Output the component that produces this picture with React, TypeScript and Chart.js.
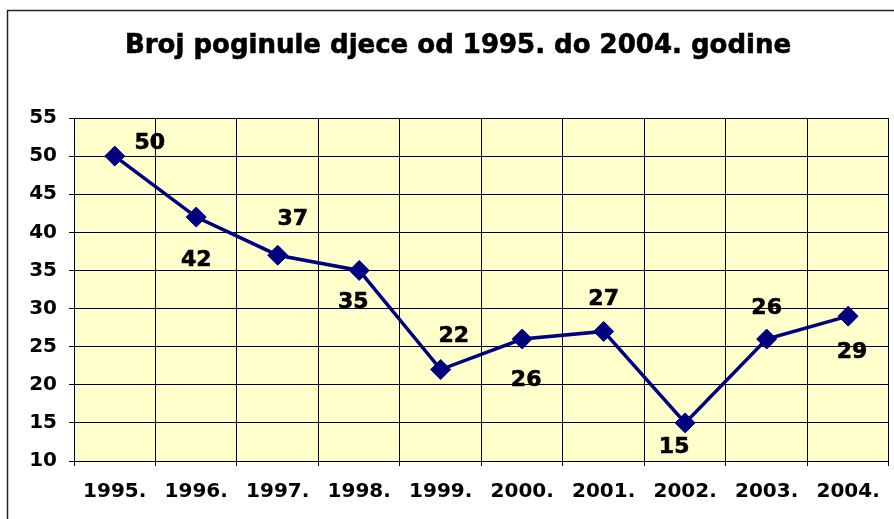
import React, { useEffect, useRef } from "react";
import { Chart, registerables } from "chart.js";

Chart.register(...registerables);

const TITLE = "Broj poginule djece od 1995. do 2004. godine";
const years = ["1995.", "1996.", "1997.", "1998.", "1999.", "2000.", "2001.", "2002.", "2003.", "2004."];
const deaths = [50, 42, 37, 35, 22, 26, 27, 15, 26, 29];
const yMin = 10;
const yMax = 55;
const yStep = 5;

// label placement (pixel offsets from the marker), style only
const labelDx = [35, 0, 15, -6, 13, 4, 0, -11, 0, 4];
const labelDy = [-13, 43, -36, 32, -33, 41, -32, 24, -31, 36];

const FONT = "'DejaVu Sans', Verdana, sans-serif";

const decorPlugin = {
  id: "decor",
  beforeDraw(chart: any) {
    const { ctx, chartArea } = chart;
    ctx.save();
    ctx.fillStyle = "#ffffff";
    ctx.fillRect(0, 0, chart.width, chart.height);
    ctx.fillStyle = "#FFFFCC";
    ctx.fillRect(chartArea.left, chartArea.top, chartArea.right - chartArea.left, chartArea.bottom - chartArea.top);
    ctx.strokeStyle = "#222";
    ctx.lineWidth = 1.5;
    ctx.strokeRect(7.5, 10.5, chart.width + 20, chart.height + 20);
    ctx.fillStyle = "#000";
    ctx.strokeStyle = "#000";
    ctx.lineWidth = 0.6;
    ctx.font = `bold 26px ${FONT}`;
    ctx.textAlign = "center";
    ctx.textBaseline = "middle";
    ctx.fillText(TITLE, 458, 46);
    ctx.strokeText(TITLE, 458, 46);
    ctx.restore();
  },
  afterDatasetsDraw(chart: any) {
    const { ctx } = chart;
    const meta = chart.getDatasetMeta(0);
    ctx.save();
    ctx.fillStyle = "#000";
    ctx.strokeStyle = "#000";
    ctx.lineWidth = 0.6;
    ctx.font = `bold 22px ${FONT}`;
    ctx.textAlign = "center";
    ctx.textBaseline = "middle";
    meta.data.forEach((pt: any, i: number) => {
      const t = String(deaths[i]);
      ctx.fillText(t, pt.x + labelDx[i], pt.y + labelDy[i]);
      ctx.strokeText(t, pt.x + labelDx[i], pt.y + labelDy[i]);
    });
    ctx.restore();
  },
};

export default function App() {
  const ref = useRef<HTMLCanvasElement>(null);
  useEffect(() => {
    document.body.style.margin = "0";
    const chart = new Chart(ref.current!, {
      type: "line",
      data: {
        labels: years,
        datasets: [
          {
            data: deaths,
            borderColor: "#000080",
            borderWidth: 3.5,
            backgroundColor: "#000080",
            pointStyle: "rectRot",
            pointRadius: 10,
            pointBorderWidth: 1,
            pointBackgroundColor: "#000080",
            pointBorderColor: "#000080",
            tension: 0,
            clip: false,
          },
        ],
      },
      options: {
        responsive: false,
        animation: false,
        devicePixelRatio: 1,
        layout: { autoPadding: false, padding: { top: 118, right: 5, left: 0, bottom: 0 } },
        plugins: { legend: { display: false }, title: { display: false }, tooltip: { enabled: false } },
        scales: {
          x: {
            offset: true,
            afterFit: (s: any) => { s.height = 58; },
            grid: { offset: true, color: "#000", lineWidth: 1, tickLength: 5, drawTicks: true },
            border: { color: "#000", width: 1 },
            ticks: { color: "#000", font: { family: FONT, size: 20, weight: "bold" }, padding: 14, maxRotation: 0 },
          },
          y: {
            min: yMin,
            max: yMax,
            afterFit: (s: any) => { s.width = 74; },
            grid: { color: "#000", lineWidth: 1, tickLength: 5 },
            border: { color: "#000", width: 1 },
            ticks: { stepSize: yStep, color: "#000", font: { family: FONT, size: 20, weight: "bold" }, padding: 12 },
          },
        },
      },
      plugins: [decorPlugin],
    });
    return () => chart.destroy();
  }, []);
  return (
    <div style={{ width: 894, height: 519 }}>
      <canvas ref={ref} width={894} height={519} style={{ display: "block" }} />
    </div>
  );
}
